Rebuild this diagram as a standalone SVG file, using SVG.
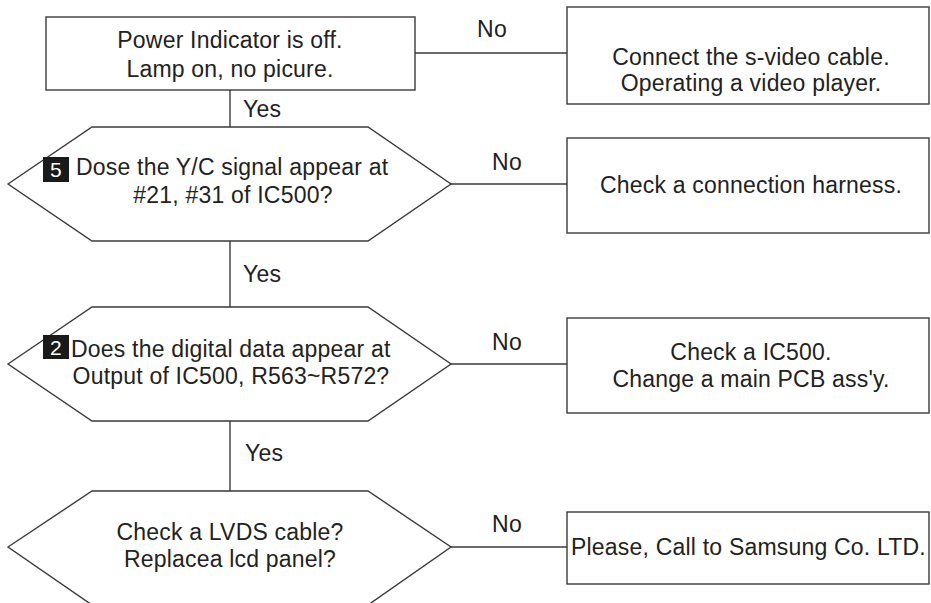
<svg xmlns="http://www.w3.org/2000/svg" width="931" height="603" viewBox="0 0 931 603">
<style>
.s{fill:#fff;stroke:#3a3a3a;stroke-width:1.4}
.c{fill:none;stroke:#3a3a3a;stroke-width:1.4}
text{font-family:"Liberation Sans",Arial,sans-serif;font-size:23px;letter-spacing:0.2px;fill:#222}
.m{text-anchor:middle}
.n{fill:#fff;font-size:21px;text-anchor:middle}
.b{fill:#1a1a1a}
</style>
<rect width="931" height="603" fill="#fff"/>
<g id="connectors">
<path class="c" d="M415 53H567"/>
<path class="c" d="M230 90V127"/>
<path class="c" d="M451 184H567"/>
<path class="c" d="M230 241V307"/>
<path class="c" d="M451 364H567"/>
<path class="c" d="M230 421V491"/>
<path class="c" d="M451 547H567"/>
<text x="492" y="37" class="m">No</text>
<text x="243" y="117">Yes</text>
<text x="507" y="170" class="m">No</text>
<text x="243" y="282">Yes</text>
<text x="507" y="350" class="m">No</text>
<text x="245" y="461">Yes</text>
<text x="507" y="532" class="m">No</text>
</g>
<g id="start">
<rect class="s" x="46" y="17" width="369" height="73"/>
<text x="230" y="48" class="m">Power Indicator is off.</text>
<text x="230" y="77" class="m">Lamp on, no picure.</text>
</g>
<g id="svideo">
<rect class="s" x="567" y="7" width="362" height="97"/>
<text x="751" y="65" class="m">Connect the s-video cable.</text>
<text x="751" y="91" class="m">Operating a video player.</text>
</g>
<g id="q5">
<polygon class="s" points="8,184 92,127 368,127 451,184 368,241 92,241"/>
<rect class="b" x="43" y="157" width="26" height="25"/>
<text x="56" y="177" class="n">5</text>
<text x="76" y="175">Dose the Y/C signal appear at</text>
<text x="233" y="203" class="m">#21, #31 of IC500?</text>
</g>
<g id="harness">
<rect class="s" x="567" y="138" width="362" height="95"/>
<text x="751" y="193" class="m">Check a connection harness.</text>
</g>
<g id="q2">
<polygon class="s" points="8,364 92,307 368,307 451,364 368,421 92,421"/>
<rect class="b" x="43" y="335" width="26" height="24"/>
<text x="56" y="355" class="n">2</text>
<text x="71" y="357">Does the digital data appear at</text>
<text x="231" y="384" class="m">Output of IC500, R563~R572?</text>
</g>
<g id="ic500">
<rect class="s" x="567" y="318" width="362" height="95"/>
<text x="751" y="360" class="m">Check a IC500.</text>
<text x="751" y="387" class="m">Change a main PCB ass'y.</text>
</g>
<g id="q3">
<polygon class="s" points="8,547 92,491 368,491 451,547 368,605 92,605"/>
<text x="230" y="540" class="m">Check a LVDS cable?</text>
<text x="230" y="567" class="m">Replacea lcd panel?</text>
</g>
<g id="samsung">
<rect class="s" x="567" y="512" width="362" height="72"/>
<text x="571" y="555">Please, Call to Samsung Co. LTD.</text>
</g>
</svg>
